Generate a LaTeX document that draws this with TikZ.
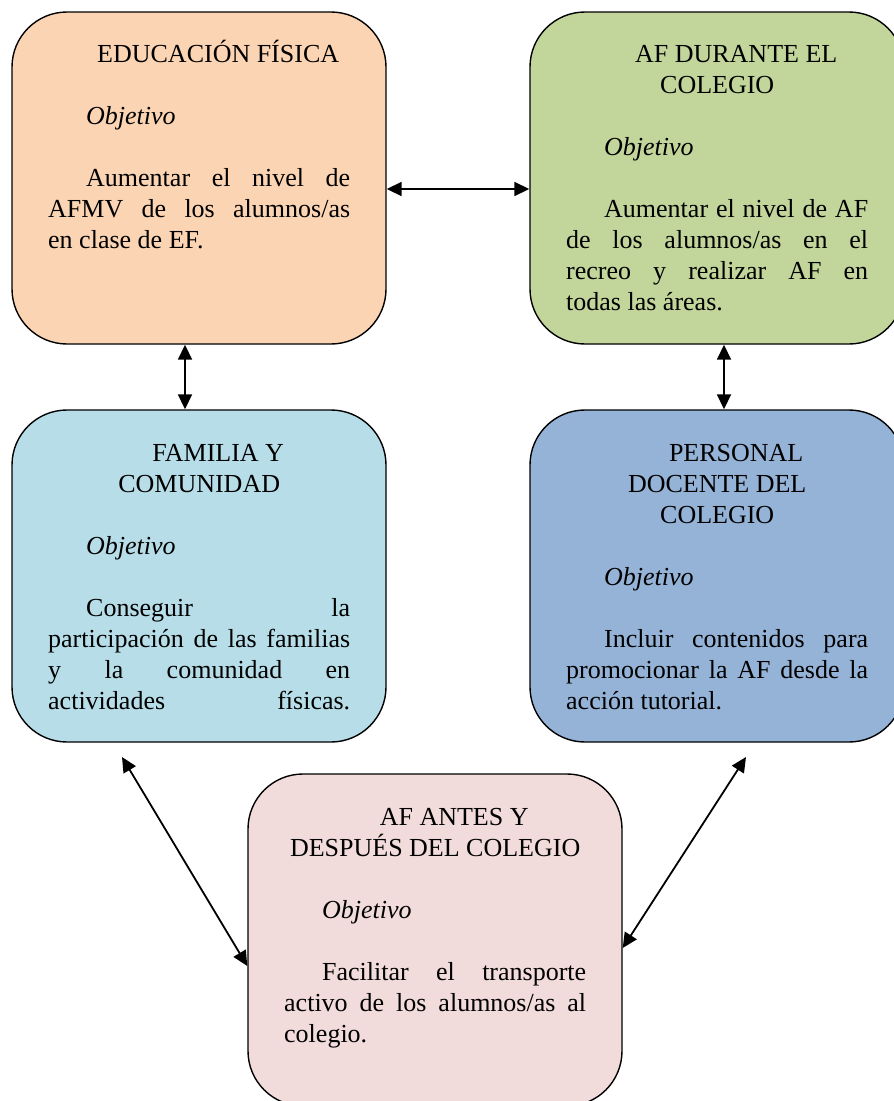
\documentclass[tikz,border=0pt]{standalone}
\usepackage{fontspec}
\setmainfont{Liberation Serif}
\usepackage{tikz}
\usetikzlibrary{arrows.meta}

\definecolor{naranja}{HTML}{FBD4B4}
\definecolor{verde}{HTML}{C2D69B}
\definecolor{celeste}{HTML}{B6DDE8}
\definecolor{azul}{HTML}{95B3D7}
\definecolor{rosa}{HTML}{F2DBDB}

\tikzset{
    caja/.style={draw=black, line width=1.4pt, rectangle, rounded corners=55pt,
        minimum width=374pt, minimum height=332pt, inner sep=0pt},
    texto/.style={anchor=base west, inner sep=0pt, text width=302pt, align=justify,
        font=\fontsize{26}{31}\selectfont},
    flecha/.style={{Triangle[length=15pt,width=14pt]}-{Triangle[length=15pt,width=14pt]}, line width=1.8pt}
}
\newcommand{\ajustes}{\parindent=38pt\parskip=31pt\tolerance=9999\hbadness=10000\hyphenpenalty=10000}
\newcommand{\sangria}{\hspace*{38pt}}

\begin{document}
\begin{tikzpicture}[x=1pt, y=-1pt]
    \useasboundingbox (0,0) rectangle (894,1101);

    \node[caja, fill=naranja] (ef) at (199,178) {};
    \node[caja, fill=verde] (afcol) at (717,178) {};
    \node[caja, fill=celeste] (fam) at (199,576) {};
    \node[caja, fill=azul] (doc) at (717,576) {};
    \node[caja, fill=rosa] (antes) at (435,940) {};

    \node[texto] (efTxt) at (48,62) {\ajustes
        {\centering\sangria EDUCACIÓN FÍSICA\par}
        {\itshape Objetivo\par}
        Aumentar el nivel de\linebreak AFMV de los alumnos/as\linebreak en clase de EF.\par};
    \node[texto] (afcolTxt) at (566,62) {\ajustes
        {\centering\sangria AF DURANTE EL\\COLEGIO\par}
        {\itshape Objetivo\par}
        Aumentar el nivel de AF\linebreak de los alumnos/as en el\linebreak recreo y realizar AF en\linebreak todas las áreas.\par};
    \node[texto] (famTxt) at (48,461) {\ajustes
        {\centering\sangria FAMILIA Y\\COMUNIDAD\par}
        {\itshape Objetivo\par}
        Conseguir la\linebreak participación de las familias\linebreak y la comunidad en\linebreak actividades \hfill físicas.\par};
    \node[texto] (docTxt) at (566,461) {\ajustes
        {\centering\sangria PERSONAL\\DOCENTE DEL\\COLEGIO\par}
        {\itshape Objetivo\par}
        Incluir contenidos para\linebreak promocionar la AF desde la\linebreak acción tutorial.\par};
    \node[texto] (antesTxt) at (284,825) {\ajustes
        {\centering\sangria AF ANTES Y\\DESPUÉS DEL COLEGIO\par}
        {\itshape Objetivo\par}
        Facilitar el transporte\linebreak activo de los alumnos/as al\linebreak colegio.\par};

    % flechas libres hacia arriba
    \coordinate (pf) at (122,757);
    \coordinate (pd) at (746,757);

    \draw[flecha] ([yshift=-11pt]ef.east) -- ([yshift=-11pt]afcol.west);
    \draw[flecha] ([xshift=-14pt]ef.south) -- ([xshift=-14pt]fam.north);
    \draw[flecha] ([xshift=7pt]afcol.south) -- ([xshift=7pt]doc.north);
    \draw[flecha] (pf) -- ([yshift=-26pt]antes.west);
    \draw[flecha] (pd) -- ([yshift=-8pt]antes.east);
\end{tikzpicture}
\end{document}
